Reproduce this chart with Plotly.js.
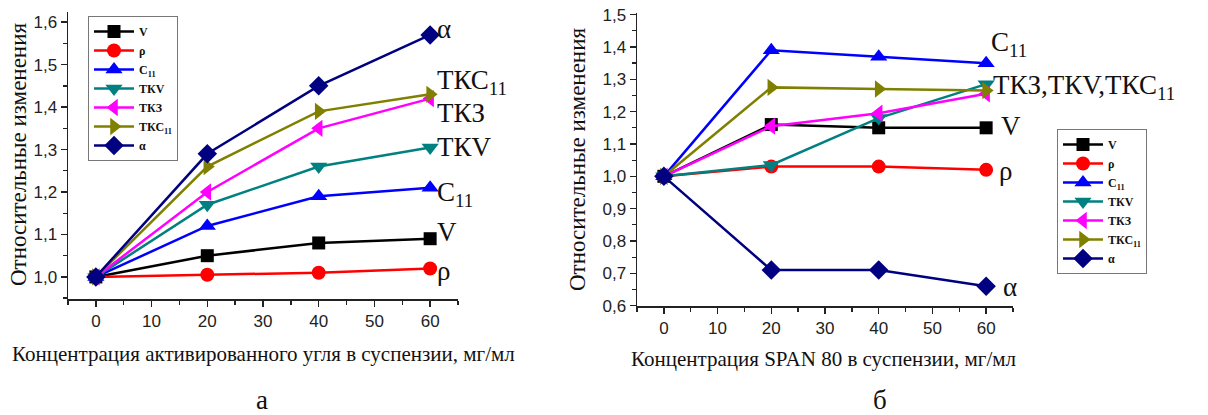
<!DOCTYPE html>
<html><head><meta charset="utf-8">
<script src="https://cdn.plot.ly/plotly-3.0.1.min.js"></script>
<style>html,body{margin:0;padding:0;background:#fff}#chart{width:1208px;height:415px}</style>
</head><body><div id="chart"></div>
<script>
// ---- data ----
const conc = [0, 20, 40, 60];
const seriesNames = ['V', 'ρ', 'C<sub>11</sub>', 'ТКV', 'ТКЗ', 'ТКС<sub>11</sub>', 'α'];
// panel a (activated carbon)
const aV     = [1.00, 1.05, 1.08, 1.09];
const aRho   = [1.00, 1.005, 1.01, 1.02];
const aC11   = [1.00, 1.12, 1.19, 1.21];
const aTKV   = [1.00, 1.17, 1.26, 1.305];
const aTK3   = [1.00, 1.20, 1.35, 1.42];
const aTKC11 = [1.00, 1.26, 1.39, 1.43];
const aAlpha = [1.00, 1.29, 1.45, 1.57];
// panel б (SPAN 80)
const bV     = [1.00, 1.16, 1.15, 1.15];
const bRho   = [1.00, 1.03, 1.03, 1.02];
const bC11   = [1.00, 1.39, 1.37, 1.35];
const bTKV   = [1.00, 1.035, 1.18, 1.285];
const bTK3   = [1.00, 1.155, 1.195, 1.255];
const bTKC11 = [1.00, 1.275, 1.27, 1.265];
const bAlpha = [1.00, 0.71, 0.71, 0.66];
const xTitleA = 'Концентрация активированного угля в суспензии, мг/мл';
const xTitleB = 'Концентрация SPAN 80 в суспензии, мг/мл';
const yTitle = 'Относительные изменения';
const labelsA = [['α', 1.585], ['ТКС<sub>11</sub>', 1.458], ['ТКЗ', 1.386], ['ТКV', 1.306], ['C<sub>11</sub>', 1.196], ['V', 1.105], ['ρ', 1.015]];
const labelsB = [['C<sub>11</sub>', 1.41, 60.6], ['ТКЗ,ТКV,ТКС<sub>11</sub>', 1.275, 60.9], ['V', 1.157, 62.4], ['ρ', 1.018, 62.0], ['α', 0.657, 62.7]];

// ---- style ----
const colors = ['#000000', '#ff0000', '#0000ff', '#008080', '#ff00ff', '#808000', '#000080'];
const symbols = ['square', 'circle', 'triangle-up', 'triangle-down', 'triangle-left', 'triangle-right', 'diamond'];
const sizes = [13, 14, 15, 15, 15, 15, 15];
const dataA = [aV, aRho, aC11, aTKV, aTK3, aTKC11, aAlpha];
const dataB = [bV, bRho, bC11, bTKV, bTK3, bTKC11, bAlpha];

const traces = [];
dataA.forEach((ys, i) => traces.push({
  x: conc, y: ys, name: seriesNames[i], type: 'scatter', mode: 'lines+markers',
  xaxis: 'x', yaxis: 'y', legend: 'legend',
  line: {color: colors[i], width: 2.5},
  marker: {symbol: symbols[i], size: sizes[i], color: colors[i]}
}));
dataB.forEach((ys, i) => traces.push({
  x: conc, y: ys, name: seriesNames[i], type: 'scatter', mode: 'lines+markers',
  xaxis: 'x2', yaxis: 'y2', legend: 'legend2',
  line: {color: colors[i], width: 2.5},
  marker: {symbol: symbols[i], size: sizes[i], color: colors[i]}
}));

const tickFont = {family: 'Liberation Sans, Arial, sans-serif', size: 17, color: '#222'};
function xax(domain, anchor) {
  return {domain: domain, anchor: anchor, range: [-5, 65], tickmode: 'linear', tick0: 0, dtick: 10,
    showgrid: false, zeroline: false, showline: true, linecolor: '#222', linewidth: 1.5,
    ticks: 'outside', ticklen: 6, tickwidth: 1.5, tickcolor: '#222', tickfont: tickFont,
    minor: {dtick: 5, ticks: 'outside', ticklen: 4, tickcolor: '#222', tickwidth: 1.3, showgrid: false}};
}
function yax(domain, anchor, range) {
  return {domain: domain, anchor: anchor, range: range, tickmode: 'linear', tick0: 0, dtick: 0.1, tickformat: '.1f',
    showgrid: false, zeroline: false, showline: true, linecolor: '#222', linewidth: 1.5,
    ticks: 'outside', ticklen: 6, tickwidth: 1.5, tickcolor: '#222', tickfont: tickFont,
    minor: {dtick: 0.05, ticks: 'outside', ticklen: 4, tickcolor: '#222', tickwidth: 1.3, showgrid: false}};
}
const serif = 'Liberation Serif, Times New Roman, serif';
const annotations = [];
labelsA.forEach(l => annotations.push({xref: 'x', yref: 'y', x: 60.8, y: l[1], text: l[0], showarrow: false,
  xanchor: 'left', yanchor: 'middle', font: {family: serif, size: 27, color: '#111'}}));
labelsB.forEach(l => annotations.push({xref: 'x2', yref: 'y2', x: l[2], y: l[1], text: l[0], showarrow: false,
  xanchor: 'left', yanchor: 'middle', font: {family: serif, size: 27, color: '#111'}}));
annotations.push(
  {xref: 'paper', yref: 'paper', x: 263 / 1208, y: 1 - 354 / 415, text: xTitleA, showarrow: false, xanchor: 'center', yanchor: 'middle', font: {family: serif, size: 21, color: '#111'}},
  {xref: 'paper', yref: 'paper', x: 823 / 1208, y: 1 - 359 / 415, text: xTitleB, showarrow: false, xanchor: 'center', yanchor: 'middle', font: {family: serif, size: 21, color: '#111'}},
  {xref: 'paper', yref: 'paper', x: 18 / 1208, y: 1 - 155 / 415, text: yTitle, textangle: -90, showarrow: false, xanchor: 'center', yanchor: 'middle', font: {family: serif, size: 23, color: '#111'}},
  {xref: 'paper', yref: 'paper', x: 577 / 1208, y: 1 - 160 / 415, text: yTitle, textangle: -90, showarrow: false, xanchor: 'center', yanchor: 'middle', font: {family: serif, size: 23, color: '#111'}},
  {xref: 'paper', yref: 'paper', x: 262 / 1208, y: 1 - 400 / 415, text: 'а', showarrow: false, xanchor: 'center', yanchor: 'middle', font: {family: serif, size: 27, color: '#111'}},
  {xref: 'paper', yref: 'paper', x: 880 / 1208, y: 1 - 400 / 415, text: 'б', showarrow: false, xanchor: 'center', yanchor: 'middle', font: {family: serif, size: 27, color: '#111'}}
);
const legFont = {family: serif, size: 12, color: '#111', weight: 'bold'};
const layout = {
  width: 1208, height: 415, margin: {l: 0, r: 0, t: 0, b: 0},
  paper_bgcolor: '#fff', plot_bgcolor: 'rgba(0,0,0,0)', separators: ', ',
  showlegend: true,
  xaxis: xax([68 / 1208, 458 / 1208], 'y'),
  yaxis: yax([1 - 299 / 415, 1 - 12 / 415], 'x', [0.948, 1.624]),
  xaxis2: xax([637 / 1208, 1013 / 1208], 'y2'),
  yaxis2: yax([1 - 306 / 415, 1 - 13 / 415], 'x2', [0.599, 1.505]),
  legend: {x: 88 / 1208, y: 1 - 16 / 415, xanchor: 'left', yanchor: 'top', bgcolor: '#fff',
    bordercolor: '#777', borderwidth: 1, font: legFont, tracegroupgap: 0, itemwidth: 40},
  legend2: {x: 1057 / 1208, y: 1 - 129 / 415, xanchor: 'left', yanchor: 'top', bgcolor: '#fff',
    bordercolor: '#777', borderwidth: 1, font: legFont, tracegroupgap: 0, itemwidth: 40},
  annotations: annotations
};
Plotly.newPlot('chart', traces, layout, {displayModeBar: false, staticPlot: true});
</script></body></html>
